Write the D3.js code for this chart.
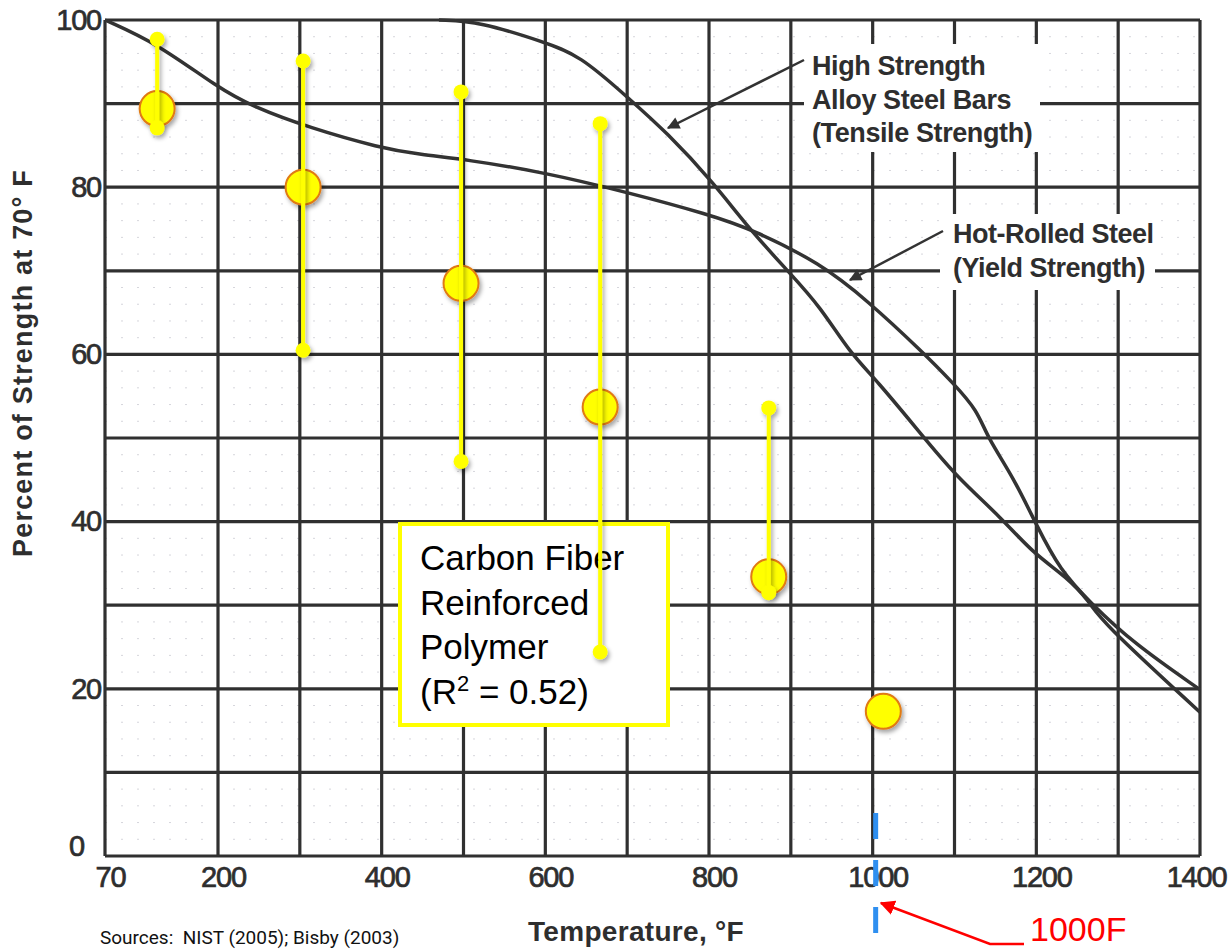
<!DOCTYPE html>
<html>
<head>
<meta charset="utf-8">
<script src="https://cdn.jsdelivr.net/npm/d3@7"></script>
<style>
  body { margin: 0; background: #fff; }
  svg { display: block; }
  .scan { font-family: "Liberation Sans", Arial, sans-serif; fill: #2e2e2e; }
</style>
</head>
<body>
<div id="chart"></div>
<script>
// tick values
const xTicks = [70, 200, 400, 600, 800, 1000, 1200, 1400];
const xGrid = [70, 200, 300, 400, 500, 600, 700, 800, 900, 1000, 1100, 1200, 1300, 1400];
const yTicks = [0, 20, 40, 60, 80, 100];
const yGrid = [0, 10, 20, 30, 40, 50, 60, 70, 80, 90, 100];

// steel curves (temperature F, percent)
const hotRolledT = [70, 130, 200, 243, 312, 398, 447, 504, 597, 700, 801, 854, 936, 993, 1062, 1098, 1128, 1140, 1172, 1201, 1229, 1266, 1318, 1400];
const hotRolledP = [100, 97.2, 91.9, 89.6, 87.1, 84.7, 83.9, 83.3, 81.8, 79.4, 76.7, 74.9, 70.9, 66.5, 60.2, 56.6, 53.3, 50.1, 45.3, 39.4, 34.2, 30.3, 25.5, 19.9];
const alloyT = [470, 520, 597, 642, 700, 749, 805, 850, 899, 936, 972, 1005, 1058, 1103, 1156, 1196, 1237, 1266, 1278, 1400];
const alloyP = [100, 99.8, 97.4, 95.8, 90.8, 86.5, 80.6, 74.9, 69.7, 65.7, 60.2, 56.9, 50.6, 45.3, 40.6, 36.2, 33.4, 30.3, 28.2, 17.2];

// carbon fiber points: mean with range
const cfrpTemp = [130, 304, 497, 667, 873, 1013];
const cfrpMean = [89.4, 80.0, 68.5, 53.7, 33.4, 17.3];
const cfrpHigh = [97.7, 95.1, 91.4, 87.6, 53.6, null];
const cfrpLow = [87.1, 60.5, 47.2, 24.4, 31.5, null];

const width = 1232, height = 950;
const svg = d3.select("#chart").append("svg")
  .attr("width", width)
  .attr("height", height);

const defs = svg.append("defs");
const shadow = defs.append("filter").attr("id", "shadow")
  .attr("x", "-50%").attr("y", "-50%").attr("width", "200%").attr("height", "200%");
shadow.append("feDropShadow")
  .attr("dx", 2).attr("dy", 3).attr("stdDeviation", 2)
  .attr("flood-color", "#000").attr("flood-opacity", 0.35);
const arrowRed = defs.append("marker").attr("id", "arrowRed")
  .attr("viewBox", "0 0 10 10").attr("refX", 9).attr("refY", 5)
  .attr("markerWidth", 6).attr("markerHeight", 6).attr("orient", "auto");
arrowRed.append("path").attr("d", "M0,0 L10,5 L0,10 Z").attr("fill", "#ff0000");
const arrowBlk = defs.append("marker").attr("id", "arrowBlk")
  .attr("viewBox", "0 0 10 10").attr("refX", 9).attr("refY", 5)
  .attr("markerWidth", 7).attr("markerHeight", 5).attr("orient", "auto");
arrowBlk.append("path").attr("d", "M0,0 L10,5 L0,10 Z").attr("fill", "#333");

// scanned chart has a slightly wider first interval (70..200)
const x = d3.scaleLinear().domain([70, 200, 1400]).range([105, 218, 1200]);
const y = d3.scaleLinear().domain([0, 100]).range([856, 20]);

// faint dotted minor grid
const minorY = d3.range(2, 100, 2);
svg.append("g").selectAll("line").data(minorY).enter().append("line")
  .attr("x1", x(70)).attr("x2", x(1400))
  .attr("y1", d => y(d)).attr("y2", d => y(d))
  .attr("stroke", "#d6d6dc").attr("stroke-width", 1)
  .attr("stroke-dasharray", "2,14");

// major grid
const grid = svg.append("g").attr("stroke", "#303030").attr("stroke-width", 3.2);
grid.selectAll(".gx").data(xGrid).enter().append("line")
  .attr("x1", d => x(d)).attr("x2", d => x(d))
  .attr("y1", y(100)).attr("y2", y(0));
grid.selectAll(".gy").data(yGrid).enter().append("line")
  .attr("x1", x(70)).attr("x2", x(1400))
  .attr("y1", d => y(d)).attr("y2", d => y(d));

// white patches behind the steel labels
svg.append("rect").attr("x", 804).attr("y", 44).attr("width", 236).attr("height", 108).attr("fill", "#fff");
svg.append("rect").attr("x", 940).attr("y", 214).attr("width", 215).attr("height", 76).attr("fill", "#fff");

// tick labels
const yAxis = svg.append("g").attr("transform", "translate(101,0)")
  .call(d3.axisLeft(y).tickValues(yTicks).tickSize(0).tickPadding(0));
yAxis.select(".domain").remove();
yAxis.selectAll("text")
  .attr("class", "scan")
  .style("font-size", "29px")
  .attr("stroke", "#2e2e2e").attr("stroke-width", 0.7)
  .attr("letter-spacing", -1.2)
  .attr("transform", d => d === 0 ? "translate(-17,-10)" : null);

const xAxis = svg.append("g").attr("transform", "translate(5,866)")
  .call(d3.axisBottom(x).tickValues(xTicks).tickSize(0).tickPadding(0).tickFormat(d3.format("d")));
xAxis.select(".domain").remove();
xAxis.selectAll("text")
  .attr("class", "scan")
  .style("font-size", "29px")
  .attr("stroke", "#2e2e2e").attr("stroke-width", 0.7)
  .attr("letter-spacing", -1.2)
  .attr("transform", d => d === 1400 ? "translate(-9,0)" : null);

// axis titles
svg.append("text").attr("class", "scan")
  .attr("transform", "translate(32,363) rotate(-90)")
  .attr("text-anchor", "middle")
  .style("font-size", "27px").style("font-weight", "bold")
  .attr("letter-spacing", 1.2)
  .text("Percent of Strength at 70° F");
svg.append("text").attr("class", "scan")
  .attr("x", 636).attr("y", 941)
  .attr("text-anchor", "middle")
  .style("font-size", "28px").style("font-weight", "bold")
  .attr("letter-spacing", 0.3)
  .text("Temperature, °F");

// steel curves
const line = d3.line().x(d => x(d[0])).y(d => y(d[1])).curve(d3.curveBasis);
svg.append("path").datum(d3.zip(hotRolledT, hotRolledP))
  .attr("d", line).attr("fill", "none").attr("stroke", "#333").attr("stroke-width", 3.5);
svg.append("path").datum(d3.zip(alloyT, alloyP))
  .attr("d", line).attr("fill", "none").attr("stroke", "#333").attr("stroke-width", 3.5);

// steel labels with arrows
svg.append("line").attr("x1", 804).attr("y1", 60).attr("x2", 668).attr("y2", 128)
  .attr("stroke", "#333").attr("stroke-width", 2.5).attr("marker-end", "url(#arrowBlk)");
svg.append("line").attr("x1", 943).attr("y1", 231).attr("x2", 850).attr("y2", 280)
  .attr("stroke", "#333").attr("stroke-width", 2.5).attr("marker-end", "url(#arrowBlk)");
const alloyLabel = ["High Strength", "Alloy Steel Bars", "(Tensile Strength)"];
svg.append("g").selectAll("text").data(alloyLabel).enter().append("text")
  .attr("class", "scan")
  .attr("x", 812).attr("y", (d, i) => 75 + i * 33.5)
  .style("font-size", "27px").style("font-weight", "bold")
  .attr("letter-spacing", -0.4)
  .text(d => d);
const hotLabel = ["Hot-Rolled Steel", "(Yield Strength)"];
svg.append("g").selectAll("text").data(hotLabel).enter().append("text")
  .attr("class", "scan")
  .attr("x", 953).attr("y", (d, i) => 243 + i * 34)
  .style("font-size", "27px").style("font-weight", "bold")
  .attr("letter-spacing", -0.5)
  .text(d => d);

// carbon fiber label box
svg.append("rect").attr("x", 400).attr("y", 524).attr("width", 268).attr("height", 201)
  .attr("fill", "#fff").attr("stroke", "#ffff00").attr("stroke-width", 4);
const boxText = svg.append("text")
  .style("font-family", "'Liberation Sans', Arial, sans-serif")
  .style("font-size", "35px").attr("fill", "#000");
["Carbon Fiber", "Reinforced", "Polymer"].forEach((t, i) => {
  boxText.append("tspan").attr("x", 420).attr("y", 570 + i * 44.5).text(t);
});
const r2 = svg.append("text")
  .style("font-family", "'Liberation Sans', Arial, sans-serif")
  .style("font-size", "35px").attr("fill", "#000")
  .attr("x", 420).attr("y", 703.5);
r2.append("tspan").text("(R");
r2.append("tspan").attr("dy", -13).style("font-size", "22px").text("2");
r2.append("tspan").attr("dy", 13).text(" = 0.52)");

// carbon fiber data
const cfrp = cfrpTemp.map((t, i) => ({ t: t, m: cfrpMean[i], hi: cfrpHigh[i], lo: cfrpLow[i] }));
const pts = svg.append("g");
pts.selectAll(".mean").data(cfrp).enter().append("circle")
  .attr("cx", d => x(d.t)).attr("cy", d => y(d.m)).attr("r", 17.5)
  .attr("fill", "#ffff00").attr("stroke", "#e07a12").attr("stroke-width", 2)
  .attr("filter", "url(#shadow)");
const bars = cfrp.filter(d => d.hi !== null);
const bg = pts.append("g").attr("filter", "url(#shadow)");
bg.selectAll(".bar").data(bars).enter().append("line")
  .attr("x1", d => x(d.t)).attr("x2", d => x(d.t))
  .attr("y1", d => y(d.hi)).attr("y2", d => y(d.lo))
  .attr("stroke", "#ffff00").attr("stroke-width", 4);
bg.selectAll(".capHi").data(bars).enter().append("circle")
  .attr("cx", d => x(d.t)).attr("cy", d => y(d.hi)).attr("r", 7.5).attr("fill", "#ffff00");
bg.selectAll(".capLo").data(bars).enter().append("circle")
  .attr("cx", d => x(d.t)).attr("cy", d => y(d.lo)).attr("r", 7.5).attr("fill", "#ffff00");

// blue dashed marker at 1000 F
svg.append("line").attr("x1", x(1000) + 3).attr("x2", x(1000) + 3)
  .attr("y1", 813).attr("y2", 934)
  .attr("stroke", "#2f8ff0").attr("stroke-width", 5)
  .attr("stroke-dasharray", "26,21");

// red callout
svg.append("polyline")
  .attr("points", "1024,944 990,944 881,903")
  .attr("fill", "none").attr("stroke", "#ff0000").attr("stroke-width", 2.5)
  .attr("marker-end", "url(#arrowRed)");
svg.append("text")
  .attr("x", 1030).attr("y", 941)
  .style("font-family", "'Liberation Sans', Arial, sans-serif")
  .style("font-size", "34px").attr("fill", "#ff0000")
  .text("1000F");

// sources note
svg.append("text")
  .attr("x", 100).attr("y", 944)
  .style("font-family", "Roboto, 'Liberation Sans', Arial, sans-serif")
  .style("font-size", "19px").style("white-space", "pre").attr("fill", "#111")
  .text("Sources:  NIST (2005); Bisby (2003)");
</script>
</body>
</html>
